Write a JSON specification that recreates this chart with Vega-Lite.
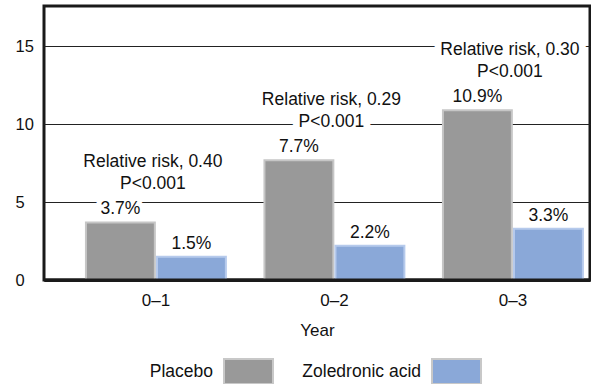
{
  "$schema": "https://vega.github.io/schema/vega-lite/v6.json",
  "width": 546,
  "height": 274,
  "autosize": "none",
  "padding": {"left": 44, "top": 6, "right": 1, "bottom": 104},
  "background": "white",
  "config": {
    "view": {"stroke": "#1a1a1a", "strokeWidth": 3},
    "font": "Liberation Sans",
    "text": {"font": "Liberation Sans"}
  },
  "datasets": {
    "bars": [
      {"year": "0–1", "series": "Placebo", "value": 3.7, "label": "3.7%"},
      {"year": "0–1", "series": "Zoledronic acid", "value": 1.5, "label": "1.5%"},
      {"year": "0–2", "series": "Placebo", "value": 7.7, "label": "7.7%"},
      {"year": "0–2", "series": "Zoledronic acid", "value": 2.2, "label": "2.2%"},
      {"year": "0–3", "series": "Placebo", "value": 10.9, "label": "10.9%"},
      {"year": "0–3", "series": "Zoledronic acid", "value": 3.3, "label": "3.3%"}
    ],
    "notes": [
      {"year": "0–1", "top": 3.7, "note": "Relative risk, 0.40\nP<0.001"},
      {"year": "0–2", "top": 7.7, "note": "Relative risk, 0.29\nP<0.001"},
      {"year": "0–3", "top": 10.9, "note": "Relative risk, 0.30\nP<0.001"}
    ],
    "baseline": [{"value": 0}]
  },
  "layer": [
    {
      "data": {"name": "bars"},
      "mark": {"type": "bar", "strokeWidth": 2},
      "encoding": {
        "x": {
          "field": "year",
          "type": "nominal",
          "sort": null,
          "scale": {"paddingInner": 0.216, "paddingOuter": 0.1374, "align": 0.855, "round": false},
          "axis": {
            "labelAngle": 0,
            "domain": true,
            "domainColor": "#1a1a1a",
            "domainWidth": 3,
            "ticks": false,
            "tickSize": 0,
            "labelPadding": 12,
            "labelBaseline": "top",
            "labelFontSize": 17,
            "labelColor": "#111",
            "title": "Year",
            "titleFontSize": 17,
            "titleFontWeight": "normal",
            "titleColor": "#111",
            "titlePadding": 14,
            "grid": false
          }
        },
        "xOffset": {"field": "series", "type": "nominal", "scale": {"paddingInner": 0.03, "paddingOuter": 0}},
        "y": {
          "field": "value",
          "type": "quantitative",
          "scale": {"domain": [0, 17.6], "nice": false, "zero": true},
          "axis": {
            "values": [0, 5, 10, 15],
            "grid": true,
            "gridColor": "#222",
            "gridWidth": 1.2,
            "domain": false,
            "ticks": false,
            "tickSize": 0,
            "labelAlign": "left",
            "labelPadding": 29,
            "labelFontSize": 16.5,
            "labelColor": "#111",
            "title": null
          }
        },
        "color": {
          "field": "series",
          "type": "nominal",
          "scale": {"domain": ["Placebo", "Zoledronic acid"], "range": ["#999999", "#8aa8d8"]},
          "legend": {
            "orient": "none",
            "legendX": 179,
            "legendY": 340,
            "direction": "horizontal",
            "title": null,
            "padding": 0,
            "symbolType": "M-1,-0.51H1V0.51H-1Z",
            "symbolSize": 2401,
            "symbolStrokeWidth": 2,
            "symbolStrokeColor": "#c8c8c8",
            "symbolOpacity": 1,
            "labelAlign": "right",
            "labelOffset": -61,
            "labelFontSize": 17.5,
            "labelColor": "#111",
            "columnPadding": 25
          }
        },
        "stroke": {"condition": {"test": "datum.series === 'Placebo'", "value": "#c6c6c6"}, "value": "#b6caec"}
      }
    },
    {
      "data": {"name": "bars"},
      "mark": {"type": "text", "baseline": "alphabetic", "dy": -8, "fontSize": 17.5, "fill": "white", "stroke": "white", "strokeWidth": 10, "strokeJoin": "round"},
      "encoding": {
        "x": {"field": "year", "type": "nominal", "sort": null},
        "xOffset": {"field": "series", "type": "nominal"},
        "y": {"field": "value", "type": "quantitative"},
        "text": {"field": "label"}
      }
    },
    {
      "data": {"name": "bars"},
      "mark": {"type": "text", "baseline": "alphabetic", "dy": -8, "fontSize": 17.5, "fill": "#111"},
      "encoding": {
        "x": {"field": "year", "type": "nominal", "sort": null},
        "xOffset": {"field": "series", "type": "nominal"},
        "y": {"field": "value", "type": "quantitative"},
        "text": {"field": "label"}
      }
    },
    {
      "data": {"name": "notes"},
      "mark": {"type": "text", "baseline": "alphabetic", "dx": -3, "dy": -55, "fontSize": 17.5, "lineBreak": "\n", "lineHeight": 22, "fill": "white", "stroke": "white", "strokeWidth": 14, "strokeJoin": "round"},
      "encoding": {
        "x": {"field": "year", "type": "nominal", "sort": null},
        "y": {"field": "top", "type": "quantitative"},
        "text": {"field": "note"}
      }
    },
    {
      "data": {"name": "notes"},
      "mark": {"type": "text", "baseline": "alphabetic", "dx": -3, "dy": -55, "fontSize": 17.5, "lineBreak": "\n", "lineHeight": 22, "fill": "#111"},
      "encoding": {
        "x": {"field": "year", "type": "nominal", "sort": null},
        "y": {"field": "top", "type": "quantitative"},
        "text": {"field": "note"}
      }
    },
    {
      "data": {"name": "baseline"},
      "mark": {"type": "rule", "color": "#1a1a1a", "strokeWidth": 3},
      "encoding": {
        "y": {"field": "value", "type": "quantitative"}
      }
    }
  ]
}
